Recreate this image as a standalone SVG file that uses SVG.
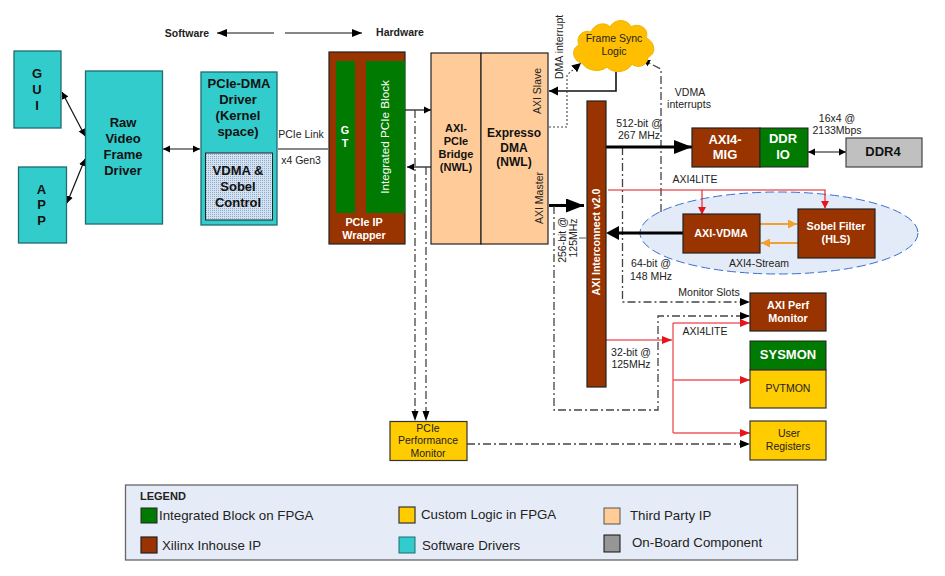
<svg xmlns="http://www.w3.org/2000/svg" width="945" height="576" viewBox="0 0 945 576">
<style>
text{font-family:"Liberation Sans",Arial,sans-serif;font-size:10.5px;fill:#222;text-anchor:middle}
.b{font-weight:bold;font-size:13px;fill:#111}
.w{fill:#fff}
.m{font-size:10.8px;font-weight:bold}
.p{font-size:11px;font-weight:bold;fill:#111}
.teal{fill:#33cccc;stroke:#1f6b70;stroke-width:1.3}
.brown{fill:#993300;stroke:#222;stroke-width:1.2}
.green{fill:#007a00;stroke:#222;stroke-width:1}
.peach{fill:#ffcc99;stroke:#222;stroke-width:1.2}
.yellow{fill:#ffcc00;stroke:#333;stroke-width:1.2}
.l{fill:none;stroke:#111;stroke-width:1.2}
.dd{fill:none;stroke:#444;stroke-width:1.3;stroke-dasharray:8 3 2 3}
.dot{fill:none;stroke:#444;stroke-width:1.1;stroke-dasharray:2 2}
.th{fill:none;stroke:#000;stroke-width:3.2}
.r{fill:none;stroke:#e8141c;stroke-width:1.1}
.r2{fill:none;stroke:#ee5a60;stroke-width:1.4}
.o{fill:none;stroke:#f0a030;stroke-width:2}
.leg{font-size:13.3px;text-anchor:start;fill:#222}
</style>
<defs>
<pattern id="dots" width="2" height="2" patternUnits="userSpaceOnUse"><rect width="2" height="2" fill="#d4e2f2"/><rect width="1" height="1" fill="#8fa8c8"/></pattern>
<marker id="a" markerUnits="userSpaceOnUse" markerWidth="8" markerHeight="8" refX="7" refY="4" orient="auto-start-reverse"><path d="M0 .5L7 4L0 7.5z" fill="#000"/></marker>
<marker id="ab" markerUnits="userSpaceOnUse" markerWidth="10" markerHeight="10" refX="9" refY="5" orient="auto"><path d="M0 .5L9 5L0 9.500z" fill="#000"/></marker>
<marker id="ad" markerUnits="userSpaceOnUse" markerWidth="11" markerHeight="8" refX="10" refY="4" orient="auto"><path d="M0 0L10 4L0 8z" fill="#000"/></marker>
<marker id="at" markerUnits="userSpaceOnUse" markerWidth="18" markerHeight="14" refX="18" refY="7" orient="auto"><path d="M0 0L18 7L0 14z" fill="#000"/></marker>
<marker id="ar" markerUnits="userSpaceOnUse" markerWidth="11" markerHeight="8" refX="10" refY="4" orient="auto"><path d="M0 0L10 4L0 8z" fill="#e8141c"/></marker>
<marker id="ao" markerUnits="userSpaceOnUse" markerWidth="10" markerHeight="9" refX="9" refY="4.500" orient="auto"><path d="M0 0L9 4.500L0 9z" fill="#f0a030"/></marker>
</defs>
<rect width="945" height="576" fill="#fff"/>

<g id="ellipse-region"><ellipse cx="779" cy="233" rx="139" ry="41" fill="#e4ebf8" stroke="#3a6fd0" stroke-width="1" stroke-dasharray="9 4"/></g>

<g id="connectors">
<path class="l" d="M62 92L85 136" marker-start="url(#a)" marker-end="url(#a)"/>
<path class="l" d="M67 203L85 159" marker-start="url(#a)" marker-end="url(#a)"/>
<path class="l" d="M163 149H200" marker-start="url(#a)" marker-end="url(#a)"/>
<path class="l" d="M278 149H328"/>
<path class="l" d="M405 110H431" marker-end="url(#a)"/>
<path class="l" d="M431 167H407" marker-end="url(#a)"/>
<path class="dd" d="M415 110V412"/>
<path class="dd" d="M426 167V412"/>
<path d="M411.500 411L418.500 411L415 421zM422.500 411L429.500 411L426 421z" fill="#000"/>
<path class="l" style="stroke-width:1.6" d="M616 72V91H549" marker-end="url(#ab)"/>
<path class="dot" d="M549 127H567V75L581 63" marker-end="url(#ab)"/>
<path class="dd" d="M661 212V69L643 60" marker-end="url(#a)"/>
<path class="th" d="M549 205.500H584" marker-end="url(#at)"/>
<path class="dd" d="M554 206V410H658V316H750" marker-end="url(#ad)"/>
<path class="dd" d="M622.500 147V302H750" marker-end="url(#ad)"/>
<path class="th" d="M606 147H692" marker-end="url(#at)"/>
<path class="th" d="M683 233H612"/>
<path d="M606 233L619 226V240z" fill="#000"/>
<path class="r" d="M608 190H825V208"/>
<path class="r" d="M702 190V214"/>
<path d="M698 207H706L702 214.500zM821 201H829L825 208.500z" fill="#e8141c"/>
<path class="r" d="M606 340H672" marker-end="url(#ar)"/>
<path class="r2" d="M673 323V433"/>
<path class="r" d="M673 323H750" marker-end="url(#ar)"/>
<path class="r2" d="M673 380H750" marker-end="url(#ar)"/>
<path class="r2" d="M673 433H750" marker-end="url(#ar)"/>
<path class="o" d="M760 224H797" marker-end="url(#ao)"/>
<path class="o" d="M798 243H761" marker-end="url(#ao)"/>
<path class="l" d="M808 152H846" marker-start="url(#a)" marker-end="url(#a)"/>
<path class="dd" d="M467 444H750" marker-end="url(#ad)"/>
<path class="l" d="M274 33H217" marker-end="url(#ad)"/>
<path class="l" d="M285 33H362" marker-end="url(#ad)"/>
<path d="M579 238H586" stroke="#555" stroke-width="1"/>
</g>

<g id="gui"><rect class="teal" x="14" y="51" width="47" height="77"/><text class="b" x="37" y="78">G</text><text class="b" x="37" y="94">U</text><text class="b" x="37" y="110">I</text></g>
<g id="app"><rect class="teal" x="18.500" y="167" width="48" height="76"/><text class="b" x="41.500" y="194">A</text><text class="b" x="41.500" y="209">P</text><text class="b" x="41.500" y="225">P</text></g>
<g id="raw-driver"><rect class="teal" x="85.500" y="71" width="77" height="153"/><text class="b" x="123" y="127">Raw</text><text class="b" x="123" y="143">Video</text><text class="b" x="123" y="159">Frame</text><text class="b" x="123" y="175">Driver</text></g>
<g id="pcie-dma-driver"><rect class="teal" x="201" y="72" width="76" height="153"/><text class="b" x="239" y="88">PCIe-DMA</text><text class="b" x="238" y="104">Driver</text><text class="b" x="238" y="120">(Kernel</text><text class="b" x="238" y="136">space)</text>
<rect x="205.500" y="153" width="67" height="67" fill="url(#dots)" stroke="#222" stroke-width="1"/><text class="b" x="238" y="175">VDMA &amp;</text><text class="b" x="238" y="191">Sobel</text><text class="b" x="238" y="207">Control</text></g>
<g id="pcie-wrapper"><rect class="brown" x="329" y="52" width="76" height="192"/><rect x="336" y="61" width="19" height="152" fill="#007a00"/><rect x="366" y="61" width="39" height="152" fill="#007a00"/>
<text class="m w" x="345" y="134">G</text><text class="m w" x="345" y="147">T</text>
<text class="w" style="font-size:11.700px" transform="translate(389 137) rotate(-90)">Integrated PCIe Block</text>
<text class="m w" x="364" y="226">PCIe IP</text><text class="m w" x="364" y="239">Wrapper</text></g>
<g id="axi-pcie-bridge"><rect class="peach" x="431" y="53" width="50" height="191"/><text class="p" x="456" y="132">AXI-</text><text class="p" x="456" y="145">PCIe</text><text class="p" x="456" y="158">Bridge</text><text class="p" x="456" y="171">(NWL)</text></g>
<g id="expresso-dma"><rect class="peach" x="481" y="53" width="67" height="191"/><text class="b" style="font-size:12px" x="514" y="137">Expresso</text><text class="b" style="font-size:12px" x="514" y="152">DMA</text><text class="b" style="font-size:12px" x="514" y="166">(NWL)</text>
<text transform="translate(541 91) rotate(-90)">AXI Slave</text><text transform="translate(543 198) rotate(-90)">AXI Master</text></g>
<g id="frame-sync"><path d="M582 63C572 61 571 48 579 45C575 36 584 29 591 32C594 24 605 21 610 27C615 18 628 19 631 27C639 22 650 29 646 38C656 42 656 55 648 57C648 66 637 69 632 64C627 73 613 74 607 67C600 73 587 71 582 63z" fill="#ffbf00" stroke="#eeb200" stroke-width="1"/><text x="614" y="42">Frame Sync</text><text x="614" y="55">Logic</text></g>
<g id="axi-interconnect"><rect class="brown" x="587" y="101" width="19" height="286"/><text class="w" style="font-weight:bold" transform="translate(600 242) rotate(-90)">AXI Interconnect v2.0</text></g>
<g id="axi4-mig"><rect class="brown" x="692" y="128" width="68" height="39"/><text class="b w" x="725" y="144">AXI4-</text><text class="b w" x="725" y="159">MIG</text></g>
<g id="ddr-io"><rect class="green" x="760" y="128" width="48" height="39"/><text class="b w" x="783" y="143">DDR</text><text class="b w" x="783" y="159">IO</text></g>
<g id="ddr4"><rect x="846" y="138" width="76" height="29" fill="#c0c0c0" stroke="#444" stroke-width="1.2"/><text class="b" x="883" y="156">DDR4</text></g>
<g id="axi-vdma"><rect class="brown" x="683" y="214" width="77" height="39"/><text class="m w" x="721" y="237">AXI-VDMA</text></g>
<g id="sobel"><rect class="brown" x="798" y="209" width="77" height="49"/><text class="m w" x="836" y="230">Sobel Filter</text><text class="m w" x="836" y="243">(HLS)</text></g>
<g id="axi-perf"><rect class="brown" x="750" y="293" width="76" height="38"/><text class="m w" x="788" y="309">AXI Perf</text><text class="m w" x="788" y="322">Monitor</text></g>
<g id="sysmon"><rect class="green" x="750" y="341" width="76" height="29"/><text class="b w" x="788" y="359">SYSMON</text><rect class="yellow" x="750" y="370" width="76" height="38"/><text x="788" y="392">PVTMON</text></g>
<g id="user-registers"><rect class="yellow" x="750" y="421" width="76" height="39"/><text x="789" y="437">User</text><text x="788" y="450">Registers</text></g>
<g id="pcie-perf"><rect class="yellow" x="390" y="421.500" width="77" height="39"/><text x="428" y="432">PCIe</text><text x="428" y="444">Performance</text><text x="428" y="457">Monitor</text></g>

<g id="labels">
<text style="font-weight:bold" x="187" y="37">Software</text>
<text style="font-weight:bold" x="400" y="36">Hardware</text>
<text x="301" y="138">PCIe Link</text><text x="301" y="164">x4 Gen3</text>
<text transform="translate(563 79) rotate(-90)" style="text-anchor:start">DMA interrupt</text>
<text x="690" y="96">VDMA</text><text x="689" y="108">interrupts</text>
<text x="639" y="127">512-bit @</text><text x="639" y="139">267 MHz</text>
<text x="837" y="122">16x4 @</text><text x="837" y="134">2133Mbps</text>
<text x="695" y="183">AXI4LITE</text>
<text x="759" y="267">AXI4-Stream</text>
<text x="651" y="267">64-bit @</text><text x="651" y="280">148 MHz</text>
<text x="709" y="296">Monitor Slots</text>
<text x="705" y="335">AXI4LITE</text>
<text x="631" y="356">32-bit @</text><text x="631" y="368">125MHz</text>
<text transform="translate(566 240) rotate(-90)">256-bit @</text><text transform="translate(577 238) rotate(-90)">125MHz</text>
</g>

<g id="legend">
<rect x="125.500" y="485" width="672" height="75" fill="#e6ecf7" stroke="#666" stroke-width="1.3"/>
<text style="font-weight:bold;font-size:11px;text-anchor:start" x="140" y="500">LEGEND</text>
<rect class="green" x="141" y="508" width="16" height="15"/><text class="leg" x="159" y="520">Integrated Block on FPGA</text>
<rect class="yellow" x="399" y="507" width="16" height="16"/><text class="leg" x="421" y="519">Custom Logic in FPGA</text>
<rect x="604" y="508" width="16" height="16" fill="#ffcc99" stroke="#554" stroke-width="1"/><text class="leg" x="630" y="520">Third Party IP</text>
<rect class="brown" x="141" y="537" width="16" height="16"/><text class="leg" x="162" y="550">Xilinx Inhouse IP</text>
<rect x="399" y="537" width="16" height="16" fill="#33cccc" stroke="#1f6b70" stroke-width="1"/><text class="leg" x="422" y="550">Software Drivers</text>
<rect x="604" y="535" width="16" height="17" fill="#969696" stroke="#111" stroke-width="1"/><text class="leg" x="632" y="547">On-Board Component</text>
</g>
</svg>
